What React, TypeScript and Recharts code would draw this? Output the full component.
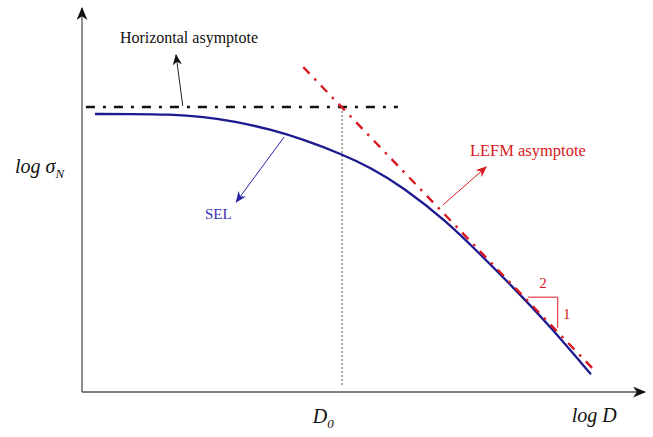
import { LineChart, Line, XAxis, YAxis, ReferenceDot } from 'recharts';

// both axes run 0..10 (log D across, log sigma_N up)
const selLogD = [0.23, 0.85, 1.56, 2.15, 2.75, 3.34, 3.93, 4.62, 5.12, 5.7, 6.48, 7.07, 7.66, 8.26, 9.04];
const selLogSigma = [7.24, 7.24, 7.23, 7.17, 7.04, 6.84, 6.58, 6.19, 5.85, 5.34, 4.44, 3.59, 2.72, 1.8, 0.46];

const horizLogD = [0.07, 5.61];
const horizLogSigma = [7.42, 7.42];

const lefmLogD = [3.93, 9.13];
const lefmLogSigma = [8.46, 0.52];

const d0LogD = [4.62, 4.62];
const d0LogSigma = [7.42, 0.18];

const slopeLogD = [7.92, 8.45, 8.45];
const slopeLogSigma = [2.47, 2.47, 1.67];

// axis lines with arrow heads
const xAxisD = [0, 10];
const xAxisS = [0, 0];
const yAxisD = [0, 0];
const yAxisS = [0, 10];

// annotation arrows: [tail, head]
const horizArrowD = [1.79, 1.67];
const horizArrowS = [7.45, 8.78];
const selArrowD = [3.59, 2.74];
const selArrowS = [6.64, 4.95];
const lefmArrowD = [6.41, 7.18];
const lefmArrowS = [4.87, 5.86];

const BLUE = '#1c1a8e';
const RED = '#d71a22';

type Pt = { x: number; y: number };
const zip = (xs: number[], ys: number[]): Pt[] => xs.map((x, i) => ({ x, y: ys[i] }));

type Tag = {
  x: number;
  y: number;
  text: string;
  sub?: string;
  anchor?: 'start' | 'middle' | 'end';
  size: number;
  color: string;
  italic?: boolean;
};

const tags: Tag[] = [
  { x: 1.9, y: 9.09, text: 'Horizontal asymptote', anchor: 'middle', size: 16, color: '#111' },
  { x: 2.42, y: 4.5, text: 'SEL', anchor: 'middle', size: 15, color: '#3a2fb0' },
  { x: 6.89, y: 6.15, text: 'LEFM asymptote', anchor: 'start', size: 16.5, color: RED },
  { x: 8.19, y: 2.71, text: '2', anchor: 'middle', size: 15, color: RED },
  { x: 8.61, y: 1.9, text: '1', anchor: 'middle', size: 15, color: RED },
  { x: -1.19, y: 5.7, text: 'log σ', sub: 'N', anchor: 'start', size: 20, color: '#111', italic: true },
  { x: 4.1, y: -0.81, text: 'D', sub: '0', anchor: 'start', size: 20, color: '#111', italic: true },
  { x: 8.7, y: -0.78, text: 'log D', anchor: 'start', size: 20, color: '#111', italic: true },
];

const font = '"Liberation Serif", "DejaVu Serif", serif';

function tagLabel(t: Tag) {
  return (props: any) => {
    const vb = props.viewBox || {};
    return (
      <text
        x={vb.x}
        y={vb.y}
        textAnchor={t.anchor || 'start'}
        fill={t.color}
        fontSize={t.size}
        fontFamily={font}
        style={{ fontFamily: font, fontStyle: t.italic ? 'italic' : 'normal' }}
      >
        {t.text}
        {t.sub && (
          <tspan fontSize={t.size * 0.65} dy={t.size * 0.22}>
            {t.sub}
          </tspan>
        )}
      </text>
    );
  };
}

function Markers() {
  const mk = (id: string, color: string, w: number, h: number) => (
    <marker
      id={id}
      viewBox="0 0 12 10"
      refX={11}
      refY={5}
      markerWidth={w}
      markerHeight={h}
      markerUnits="userSpaceOnUse"
      orient="auto-start-reverse"
    >
      <path d="M0,0 L12,5 L0,10 L3.5,5 z" fill={color} />
    </marker>
  );
  return (
    <svg width={0} height={0} style={{ position: 'absolute' }}>
      <defs>
        {mk('arrAxis', '#111', 13, 11)}
        {mk('arrBlack', '#111', 11, 10)}
        {mk('arrBlue', '#2a20a8', 11, 10)}
        {mk('arrRed', RED, 11, 10)}
      </defs>
    </svg>
  );
}

export default function App() {
  const seg = (
    key: string,
    xs: number[],
    ys: number[],
    stroke: string,
    strokeWidth: number,
    extra: Record<string, any> = {}
  ) => (
    <Line
      key={key}
      data={zip(xs, ys)}
      dataKey="y"
      stroke={stroke}
      strokeWidth={strokeWidth}
      dot={false}
      activeDot={false}
      isAnimationActive={false}
      {...extra}
    />
  );

  return (
    <div style={{ position: 'absolute', left: 0, top: 0, width: 653, height: 437, background: '#fff' }}>
      <Markers />
      <LineChart width={653} height={437} margin={{ top: 8, right: 8, bottom: 45, left: 82 }}>
        <XAxis type="number" dataKey="x" domain={[0, 10]} hide />
        <YAxis type="number" dataKey="y" domain={[0, 10]} hide />

        {seg('xaxis', xAxisD, xAxisS, '#555', 1.3, { markerEnd: 'url(#arrAxis)' })}
        {seg('yaxis', yAxisD, yAxisS, '#555', 1.3, { markerEnd: 'url(#arrAxis)' })}
        {seg('d0', d0LogD, d0LogSigma, '#555', 1, { strokeDasharray: '2 2' })}
        {seg('horiz', horizLogD, horizLogSigma, '#111', 2.6, { strokeDasharray: '9 8 3 8' })}
        {seg('sel', selLogD, selLogSigma, BLUE, 2.3, { type: 'basis' })}
        {seg('lefm', lefmLogD, lefmLogSigma, RED, 2.4, { strokeDasharray: '9 7 2.5 7' })}
        {seg('slope', slopeLogD, slopeLogSigma, RED, 1)}
        {seg('harrow', horizArrowD, horizArrowS, '#222', 1, { markerEnd: 'url(#arrBlack)' })}
        {seg('sarrow', selArrowD, selArrowS, '#2a20a8', 1, { markerEnd: 'url(#arrBlue)' })}
        {seg('larrow', lefmArrowD, lefmArrowS, RED, 1, { markerEnd: 'url(#arrRed)' })}

        {tags.map((t) => (
          <ReferenceDot
            key={t.text + (t.sub || '')}
            x={t.x}
            y={t.y}
            r={0}
            fill="none"
            stroke="none"
            ifOverflow="visible"
            label={tagLabel(t)}
          />
        ))}
      </LineChart>
    </div>
  );
}
